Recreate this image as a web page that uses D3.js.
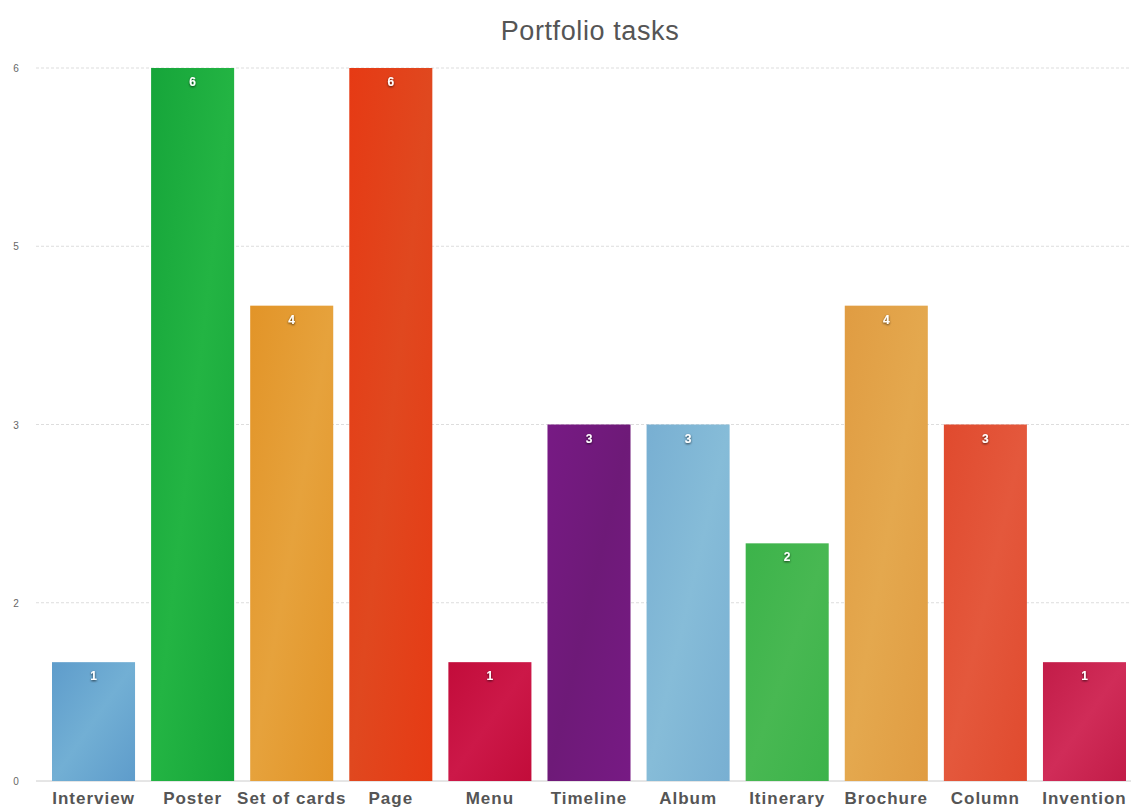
<!DOCTYPE html>
<html>
<head>
<script src="https://d3js.org/d3.v7.min.js"></script>
<style>
  body { margin: 0; background: #fff; }
  text { font-family: "Liberation Sans", Arial, Helvetica, sans-serif; }
  .title { fill: #555; font-size: 27px; letter-spacing: 0.6px; }
  .ytick { fill: #666; font-size: 10px; }
  .xlab { fill: #555; font-size: 17px; font-weight: bold; letter-spacing: 1px; }
  .val { fill: #fff; font-size: 12px; font-weight: bold; }
</style>
</head>
<body>
<script>
var categories = ["Interview", "Poster", "Set of cards", "Page", "Menu", "Timeline",
                  "Album", "Itinerary", "Brochure", "Column", "Invention"];
var values = [1, 6, 4, 6, 1, 3, 3, 2, 4, 3, 1];
var barColors = [["#5e9ccb", "#72afd4"], ["#16a53a", "#23b443"], ["#e29428", "#e6a23c"],
                 ["#e63a14", "#e0481f"], ["#c20c3a", "#cc1848"], ["#771a84", "#6e1a78"],
                 ["#78afd2", "#86bcd8"], ["#3cb34a", "#48b852"], ["#e09c42", "#e4a84e"],
                 ["#e04a2e", "#e4583c"], ["#c21c48", "#d02c58"]];
var yTickValues = [0, 1.5, 3, 4.5, 6];
var yTickLabels = ["0", "2", "3", "5", "6"];

var width = 1131, height = 810;
var svg = d3.select("body").append("svg")
    .attr("width", width)
    .attr("height", height);

var defs = svg.append("defs");
var shadow = defs.append("filter").attr("id", "shadow")
    .attr("x", "-50%").attr("y", "-50%").attr("width", "200%").attr("height", "200%");
shadow.append("feDropShadow")
    .attr("dx", 0).attr("dy", 1).attr("stdDeviation", 1)
    .attr("flood-color", "#000").attr("flood-opacity", 0.7);

barColors.forEach(function(c, i) {
  var g = defs.append("linearGradient").attr("id", "grad" + i)
      .attr("x1", 0).attr("y1", 0).attr("x2", 1).attr("y2", 1);
  g.append("stop").attr("offset", "0%").attr("stop-color", c[0]);
  g.append("stop").attr("offset", "50%").attr("stop-color", c[1]);
  g.append("stop").attr("offset", "100%").attr("stop-color", c[0]);
});

var x = d3.scaleBand()
    .domain(categories)
    .range([52, 1126])
    .paddingInner(0.162)
    .paddingOuter(0);

var y = d3.scaleLinear()
    .domain([0, 6])
    .range([781, 68]);

svg.append("text")
    .attr("class", "title")
    .attr("x", 590)
    .attr("y", 40)
    .attr("text-anchor", "middle")
    .text("Portfolio tasks");

// grid
svg.append("g").selectAll("line")
    .data(yTickValues.filter(function(d) { return d > 0; }))
    .enter().append("line")
    .attr("x1", 36).attr("x2", width)
    .attr("y1", function(d) { return y(d); })
    .attr("y2", function(d) { return y(d); })
    .attr("stroke", "#ddd")
    .attr("stroke-dasharray", "3,2");

svg.append("line")
    .attr("x1", 36).attr("x2", width)
    .attr("y1", y(0)).attr("y2", y(0))
    .attr("stroke", "#ccc");

svg.append("g").selectAll("text")
    .data(yTickValues)
    .enter().append("text")
    .attr("class", "ytick")
    .attr("x", 16)
    .attr("y", function(d) { return y(d) + 4; })
    .attr("text-anchor", "middle")
    .text(function(d, i) { return yTickLabels[i]; });

var bars = svg.append("g").selectAll("g")
    .data(values)
    .enter().append("g");

bars.append("rect")
    .attr("x", function(d, i) { return x(categories[i]); })
    .attr("y", function(d) { return y(d); })
    .attr("width", x.bandwidth())
    .attr("height", function(d) { return y(0) - y(d); })
    .attr("fill", function(d, i) { return "url(#grad" + i + ")"; });

bars.append("text")
    .attr("class", "val")
    .attr("x", function(d, i) { return x(categories[i]) + x.bandwidth() / 2; })
    .attr("y", function(d) { return y(d) + 18; })
    .attr("text-anchor", "middle")
    .attr("filter", "url(#shadow)")
    .text(function(d) { return d; });

svg.append("g").selectAll("text")
    .data(categories)
    .enter().append("text")
    .attr("class", "xlab")
    .attr("x", function(d) { return x(d) + x.bandwidth() / 2; })
    .attr("y", 804)
    .attr("text-anchor", "middle")
    .text(function(d) { return d; });
</script>
</body>
</html>
